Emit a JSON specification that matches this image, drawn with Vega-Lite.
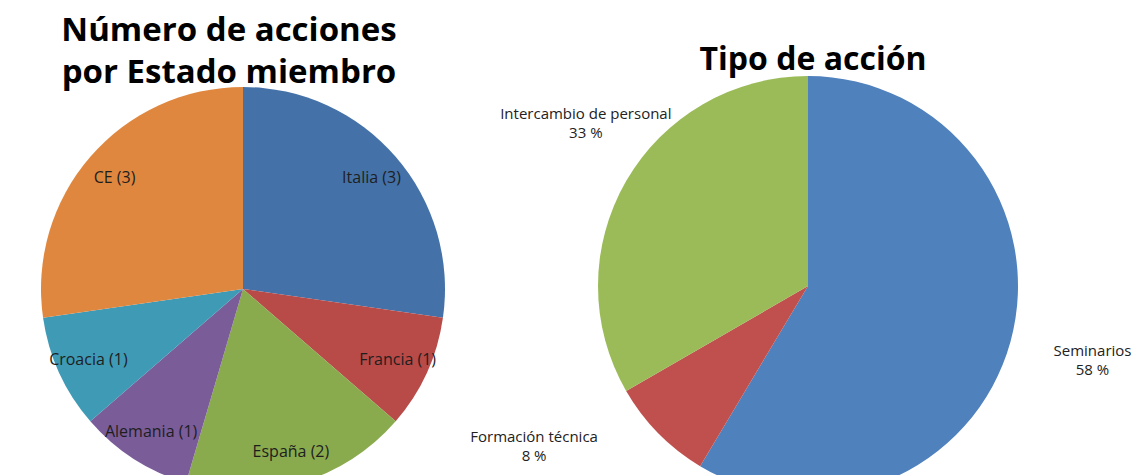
{
  "$schema": "https://vega.github.io/schema/vega-lite/v6.json",
  "padding": {"top": 15, "left": 0, "right": 0, "bottom": 0},
  "spacing": 0,
  "bounds": "flush",
  "background": "white",
  "resolve": {"scale": {"color": "independent", "theta": "independent"}},
  "config": {"view": {"stroke": null}, "font": "Open Sans"},
  "datasets": {
    "estados": [
      {"pais": "Italia", "n": 3, "orden": 1, "etiqueta": "Italia (3)"},
      {"pais": "Francia", "n": 1, "orden": 2, "etiqueta": "Francia (1)"},
      {"pais": "España", "n": 2, "orden": 3, "etiqueta": "España (2)"},
      {"pais": "Alemania", "n": 1, "orden": 4, "etiqueta": "Alemania (1)"},
      {"pais": "Croacia", "n": 1, "orden": 5, "etiqueta": "Croacia (1)"},
      {"pais": "CE", "n": 3, "orden": 6, "etiqueta": "CE (3)"}
    ],
    "tipos": [
      {"tipo": "Seminarios", "pct": 58, "orden": 1, "etiqueta": "Seminarios\n58 %"},
      {"tipo": "Formación técnica", "pct": 8, "orden": 2, "etiqueta": "Formación técnica\n8 %"},
      {"tipo": "Intercambio de personal", "pct": 33, "orden": 3, "etiqueta": "Intercambio de personal\n33 %"}
    ]
  },
  "hconcat": [
    {
      "width": 486,
      "height": 346,
      "title": {
        "text": ["Número de acciones", "por Estado miembro"],
        "fontSize": 33,
        "fontWeight": "bold",
        "lineHeight": 42,
        "font": "Open Sans",
        "color": "#000000",
        "anchor": "middle",
        "offset": -3,
        "dx": -14
      },
      "data": {"name": "estados"},
      "encoding": {
        "theta": {"field": "n", "type": "quantitative", "stack": true},
        "order": {"field": "orden", "type": "quantitative"}
      },
      "layer": [
        {
          "mark": {"type": "arc", "radius": 202},
          "encoding": {
            "color": {
              "field": "pais",
              "type": "nominal",
              "legend": null,
              "scale": {
                "domain": ["Italia", "Francia", "España", "Alemania", "Croacia", "CE"],
                "range": ["#4472A8", "#B84A48", "#8AAA4E", "#7A5C99", "#3F9AB5", "#E0873F"]
              }
            }
          }
        },
        {
          "mark": {"type": "text", "radius": 170, "fontSize": 16, "font": "Open Sans", "fill": "#1e1e1e"},
          "encoding": {"text": {"field": "etiqueta", "type": "nominal"}}
        }
      ]
    },
    {
      "width": 644,
      "height": 340,
      "title": {
        "text": "Tipo de acción",
        "fontSize": 32,
        "fontWeight": "bold",
        "font": "Open Sans",
        "color": "#000000",
        "anchor": "middle",
        "dy": 5,
        "dx": 5
      },
      "data": {"name": "tipos"},
      "encoding": {
        "theta": {"field": "pct", "type": "quantitative", "stack": true},
        "order": {"field": "orden", "type": "quantitative"}
      },
      "layer": [
        {
          "mark": {"type": "arc", "radius": 210},
          "encoding": {
            "color": {
              "field": "tipo",
              "type": "nominal",
              "legend": null,
              "scale": {
                "domain": ["Seminarios", "Formación técnica", "Intercambio de personal"],
                "range": ["#4F81BD", "#C0504D", "#9BBB59"]
              }
            }
          }
        },
        {
          "mark": {"type": "text", "radius": 290, "dx": 5, "dy": -12, "fontSize": 15, "font": "Open Sans", "fill": "#222222", "lineBreak": "\n", "lineHeight": 19},
          "encoding": {"text": {"condition": {"test": "datum.tipo === 'Seminarios'", "field": "etiqueta"}, "value": ""}}
        },
        {
          "mark": {"type": "text", "radius": 230, "dx": -110, "dy": -10, "fontSize": 15, "font": "Open Sans", "fill": "#222222", "lineBreak": "\n", "lineHeight": 19},
          "encoding": {"text": {"condition": {"test": "datum.tipo === 'Formación técnica'", "field": "etiqueta"}, "value": ""}}
        },
        {
          "mark": {"type": "text", "radius": 260, "dx": 3, "dy": -42, "fontSize": 15, "font": "Open Sans", "fill": "#222222", "lineBreak": "\n", "lineHeight": 19},
          "encoding": {"text": {"condition": {"test": "datum.tipo === 'Intercambio de personal'", "field": "etiqueta"}, "value": ""}}
        }
      ]
    }
  ]
}
